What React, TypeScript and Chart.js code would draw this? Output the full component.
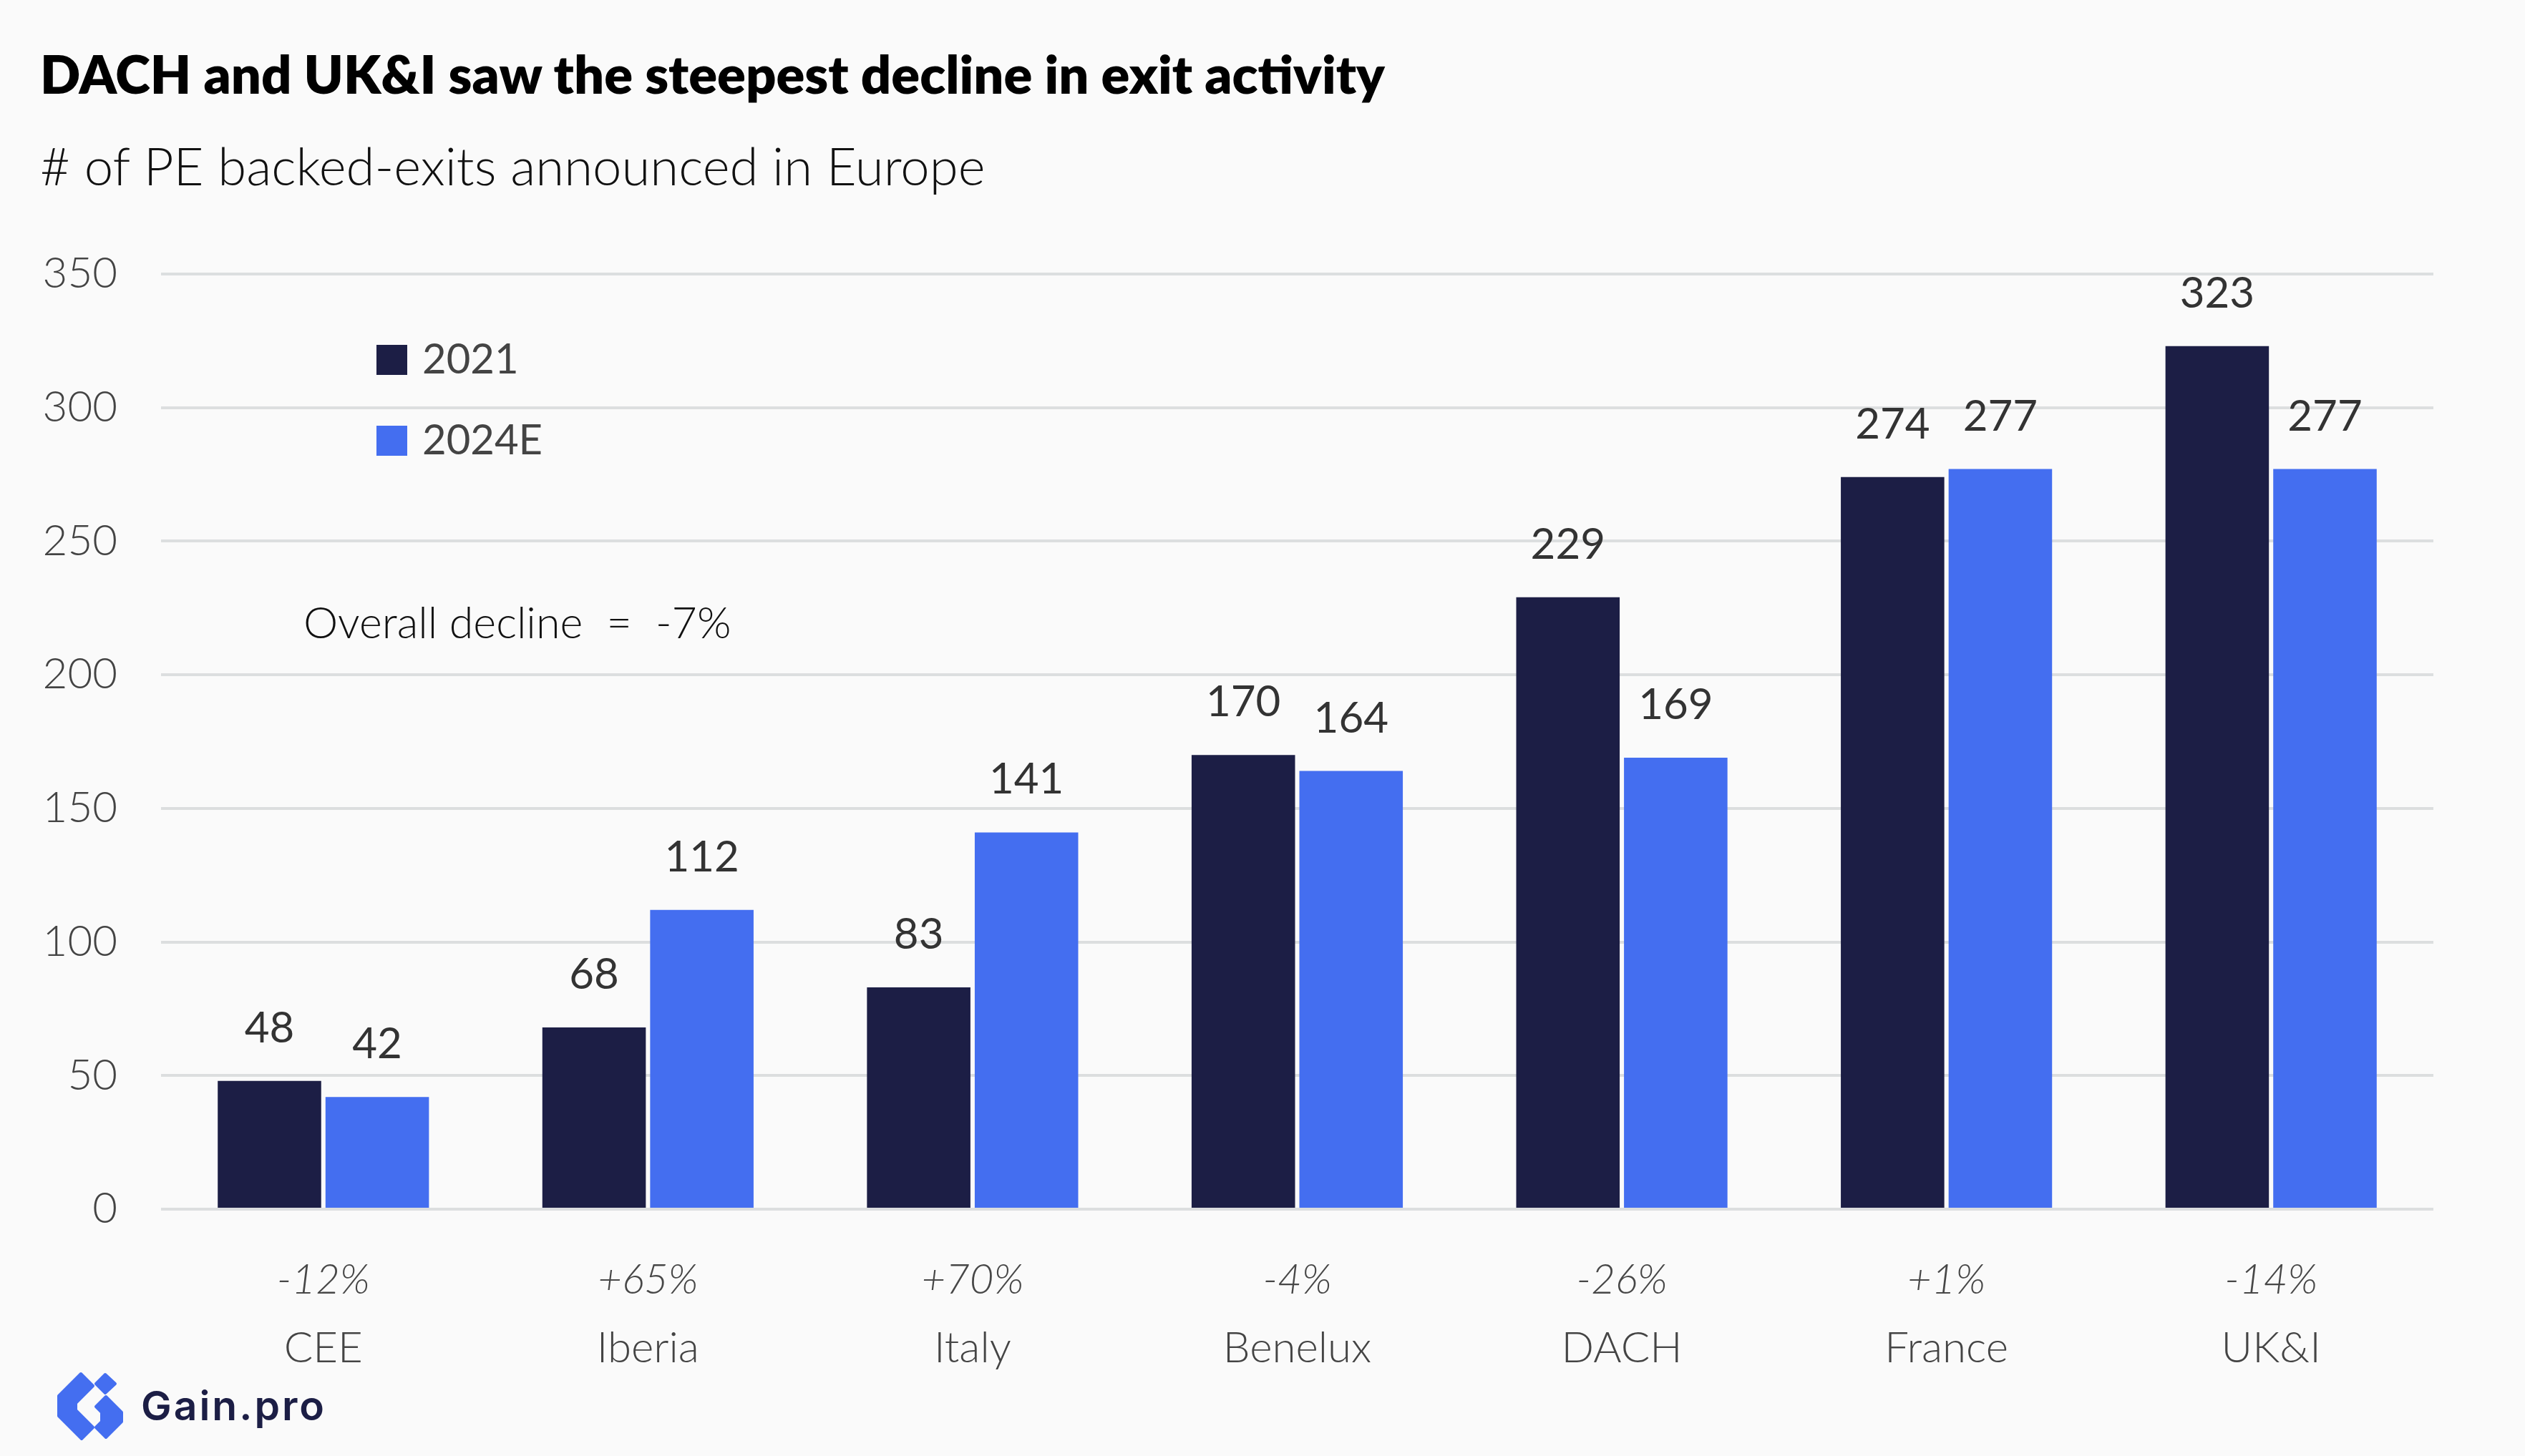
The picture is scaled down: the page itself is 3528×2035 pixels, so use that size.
import React, { useEffect, useRef } from "react";
import { Chart, registerables } from "chart.js";

Chart.register(...registerables);

// ---- data ----
const categories = ["CEE", "Iberia", "Italy", "Benelux", "DACH", "France", "UK&I"];
const changeLabels = ["-12%", "+65%", "+70%", "-4%", "-26%", "+1%", "-14%"];
const exits2021 = [48, 68, 83, 170, 229, 274, 323];
const exits2024E = [42, 112, 141, 164, 169, 277, 277];
const seriesNames = ["2021", "2024E"];
const yMin = 0;
const yMax = 350;
const yStep = 50;
const titleText = "DACH and UK&I saw the steepest decline in exit activity";
const subtitleText = "# of PE backed-exits announced in Europe";
const annotationText = "Overall decline  =  -7%";
const brandText = "Gain.pro";

// ---- style ----
const FONT = "Lato, 'Noto Sans', sans-serif";
const DARK = "#1c1e45";
const BLUE = "#446ef0";
const BG = "#fafafa";
const GRID = "#dcdedf";

const overlayPlugin = {
  id: "overlayLabels",
  afterDatasetsDraw(chart: any) {
    const ctx = chart.ctx;
    ctx.save();
    // value labels above bars
    ctx.font = `400 60px ${FONT}`;
    ctx.fillStyle = "#333333";
    ctx.textAlign = "center";
    ctx.textBaseline = "alphabetic";
    chart.data.datasets.forEach((ds: any, i: number) => {
      const meta = chart.getDatasetMeta(i);
      meta.data.forEach((bar: any, j: number) => {
        ctx.fillText(String(ds.data[j]), bar.x, bar.y - 54);
      });
    });
    // legend
    ctx.textAlign = "left";
    ctx.font = `400 58px ${FONT}`;
    chart.data.datasets.forEach((ds: any, i: number) => {
      const top = 482 + i * 113;
      ctx.fillStyle = ds.backgroundColor;
      ctx.fillRect(526, top, 43, 42);
      ctx.fillStyle = "#444444";
      ctx.fillText(ds.label, 590, top + 40);
    });
    // annotation
    ctx.font = `300 61px ${FONT}`;
    ctx.fillStyle = "#111111";
    ctx.fillText(annotationText, 424, 892);
    ctx.restore();
  },
};

export default function App() {
  const canvasRef = useRef<HTMLCanvasElement | null>(null);

  useEffect(() => {
    document.body.style.margin = "0";
    document.body.style.overflow = "hidden";
    const canvas = canvasRef.current;
    if (!canvas) return;
    const chart = new Chart(canvas, {
      type: "bar",
      data: {
        labels: categories,
        datasets: [
          {
            label: seriesNames[0],
            data: exits2021,
            backgroundColor: DARK,
            borderWidth: 0,
            barPercentage: 0.96,
            categoryPercentage: 0.664,
          },
          {
            label: seriesNames[1],
            data: exits2024E,
            backgroundColor: BLUE,
            borderWidth: 0,
            barPercentage: 0.96,
            categoryPercentage: 0.664,
          },
        ],
      },
      options: {
        animation: false,
        responsive: true,
        maintainAspectRatio: false,
        layout: { padding: { top: 383, right: 128, bottom: 15, left: 0 } },
        plugins: {
          legend: { display: false },
          tooltip: { enabled: false },
          title: { display: false },
        },
        scales: {
          y: {
            min: yMin,
            max: yMax,
            ticks: {
              stepSize: yStep,
              padding: 61,
              color: "#444444",
              font: { family: FONT, size: 60, weight: "300" as any },
            },
            grid: { color: GRID, lineWidth: 4, drawTicks: false },
            border: { display: false },
            afterFit: (s: any) => {
              s.width = 225;
            },
          },
          x: {
            type: "category",
            offset: true,
            weight: 0,
            grid: { display: false, drawTicks: false },
            border: { display: false },
            ticks: {
              autoSkip: false,
              maxRotation: 0,
              padding: 64,
              color: "#474747",
              font: { family: FONT, size: 58, weight: "300" as any, style: "italic" },
              callback: (_v: any, i: number) => changeLabels[i],
            },
            afterFit: (s: any) => {
              s.height = 130;
            },
          },
          x2: {
            type: "category",
            position: "bottom",
            labels: categories,
            offset: true,
            weight: 1,
            grid: { display: false, drawTicks: false },
            border: { display: false },
            ticks: {
              autoSkip: false,
              maxRotation: 0,
              padding: 29,
              color: "#444444",
              font: { family: FONT, size: 60, weight: "300" as any },
            },
            afterFit: (s: any) => {
              s.height = 200;
            },
          },
        },
      },
      plugins: [overlayPlugin],
    });
    return () => chart.destroy();
  }, []);

  return (
    <div
      style={{
        position: "relative",
        width: 3528,
        height: 2035,
        background: BG,
        overflow: "hidden",
      }}
    >
      <div style={{ position: "absolute", left: 0, top: 0, width: 3528, height: 2035 }}>
        <canvas ref={canvasRef} />
      </div>
      <div
        style={{
          position: "absolute",
          left: 56,
          top: 66,
          fontFamily: FONT,
          fontWeight: 800,
          fontSize: 74,
          lineHeight: 1,
          color: "#000",
          whiteSpace: "nowrap",
        }}
      >
        {titleText}
      </div>
      <div
        style={{
          position: "absolute",
          left: 56,
          top: 195,
          fontFamily: FONT,
          fontWeight: 300,
          fontSize: 72.5,
          lineHeight: 1,
          color: "#111",
          whiteSpace: "nowrap",
        }}
      >
        {subtitleText}
      </div>
      <svg
        style={{ position: "absolute", left: 70, top: 1910 }}
        width={110}
        height={110}
        viewBox="0 0 110 110"
      >
        <g fill={BLUE} stroke={BLUE} strokeWidth={4} strokeLinejoin="round">
          <polygon points="43,10 60,27 36,51 36,61 60,85 44,101 12,69 12,41" />
          <polygon points="77,11 91,24 77,37 64,24" />
          <polygon points="78,42 100,64 100,77 78,99 64,85 72,77 72,64 64,56" />
        </g>
      </svg>
      <div
        style={{
          position: "absolute",
          left: 197,
          top: 1936,
          fontFamily: "Inter, 'Noto Sans', sans-serif",
          fontWeight: 600,
          fontSize: 57,
          lineHeight: 1,
          letterSpacing: 3,
          color: DARK,
          whiteSpace: "nowrap",
        }}
      >
        {brandText}
      </div>
    </div>
  );
}
